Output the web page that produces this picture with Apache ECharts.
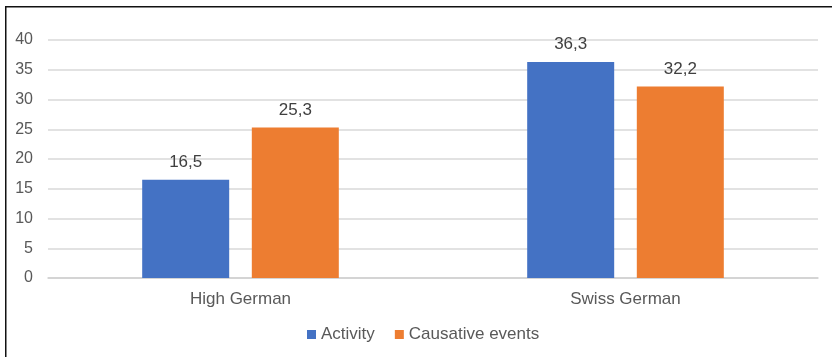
<!DOCTYPE html>
<html>
<head>
<meta charset="utf-8">
<script src="https://cdn.jsdelivr.net/npm/echarts@6/dist/echarts.min.js"></script>
<style>
  html, body { margin: 0; padding: 0; background: #ffffff; }
  #chart { width: 832px; height: 357px; }
</style>
</head>
<body>
<div id="chart"></div>
<script>
// Varieties of German compared
const categories = ['High German', 'Swiss German'];
const activity = [16.5, 36.3];
const causativeEvents = [25.3, 32.2];
const seriesNames = ['Activity', 'Causative events'];

const FONT = '"Liberation Sans", Arial, sans-serif';
const commaDecimal = p => String(p.value).replace('.', ',');

const chart = echarts.init(document.getElementById('chart'), null, { renderer: 'canvas' });

function barSeries(name, data, color) {
  return {
    name: name,
    type: 'bar',
    data: data,
    barWidth: 87,
    barGap: '26%',
    itemStyle: { color: color },
    label: {
      show: true,
      position: 'top',
      distance: 9,
      color: '#404040',
      fontFamily: FONT,
      fontSize: 17,
      formatter: commaDecimal
    }
  };
}

chart.setOption({
  animation: false,
  backgroundColor: '#ffffff',
  graphic: [
    {
      type: 'polyline',
      shape: { points: [[5.75, 357], [5.75, 6.75], [832, 6.75]] },
      style: { stroke: '#111111', lineWidth: 1.5, fill: null }
    }
  ],
  grid: { left: 48, right: 14, top: 40, bottom: 79, containLabel: false },
  legend: {
    data: seriesNames,
    left: 307,
    top: 326,
    padding: 0,
    itemWidth: 9,
    itemHeight: 9,
    itemGap: 20,
    icon: 'rect',
    textStyle: { color: '#595959', fontFamily: FONT, fontSize: 17 }
  },
  xAxis: {
    type: 'category',
    data: categories,
    axisLine: { show: true, lineStyle: { color: '#d0d0d0', width: 1.5 } },
    axisTick: { show: false },
    axisLabel: { color: '#595959', fontFamily: FONT, fontSize: 17, margin: 13 }
  },
  yAxis: {
    type: 'value',
    min: 0,
    max: 40,
    interval: 5,
    axisLine: { show: false },
    axisTick: { show: false },
    splitLine: { lineStyle: { color: '#d9d9d9', width: 1.5 } },
    axisLabel: { color: '#595959', fontFamily: FONT, fontSize: 16, margin: 15 }
  },
  series: [
    barSeries(seriesNames[0], activity, '#4472C4'),
    barSeries(seriesNames[1], causativeEvents, '#ED7D31')
  ]
});
</script>
</body>
</html>
